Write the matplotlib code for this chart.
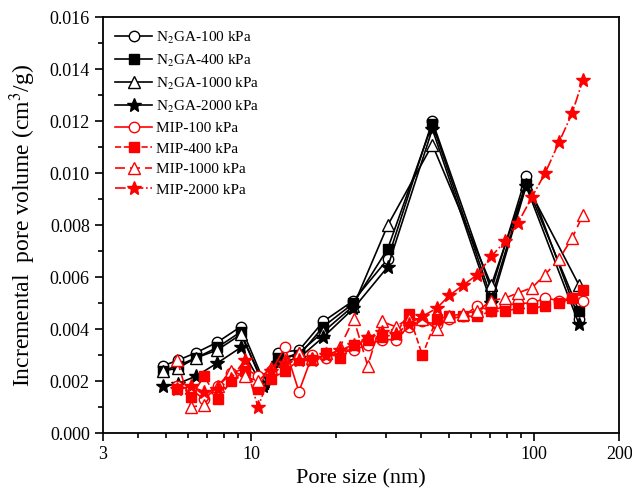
import numpy as np
import matplotlib
matplotlib.use('Agg')
import matplotlib.pyplot as plt
from matplotlib.ticker import FixedLocator, FixedFormatter, MultipleLocator, FormatStrFormatter

plt.rcParams['font.family'] = ['Liberation Serif', 'DejaVu Serif']
plt.rcParams['mathtext.fontset'] = 'stix'

#----------------data
# N2GA pore sizes (nm)
n2ga_x = [4.9, 5.5, 6.4, 7.6, 9.2, 11.0, 12.5, 14.8, 18.0, 23.0, 30.4, 43.7, 70.6, 93.7, 144.0]
n2ga_100 = [0.0026, 0.0028, 0.0031, 0.0035, 0.0041, 0.0021, 0.0031, 0.0032, 0.0043, 0.0051, 0.0067, 0.0120, 0.0055, 0.0099, 0.0044]
n2ga_400 = [0.0024, 0.0026, 0.0029, 0.0033, 0.0039, 0.0019, 0.0029, 0.0030, 0.0041, 0.0050, 0.0071, 0.0119, 0.0052, 0.0096, 0.0047]
n2ga_1000 = [0.0024, 0.0025, 0.0029, 0.0032, 0.0038, 0.0020, 0.0028, 0.0031, 0.0039, 0.0049, 0.0080, 0.0111, 0.0057, 0.0096, 0.0057]
n2ga_2000 = [0.0018, 0.0019, 0.0022, 0.0027, 0.0033, 0.0018, 0.0027, 0.0029, 0.0037, 0.0048, 0.0064, 0.0117, 0.0050, 0.0095, 0.0042]

# MIP pore sizes (nm)
mip_x = [5.49, 6.13, 6.83, 7.62, 8.50, 9.49, 10.58, 11.81, 13.18, 14.76,
         16.46, 18.37, 20.58, 23.05, 25.82, 28.93, 32.41, 36.0, 40.3, 45.2,
         50.2, 56.2, 63.0, 70.6, 79.1, 87.8, 98.4, 109.3, 122.5, 136.1, 148.8]
mip_100 = [0.0018, 0.0017, 0.0013, 0.0018, 0.0023, 0.0025, 0.0022, 0.0024, 0.0033, 0.0016,
           0.0030, 0.0029, 0.0031, 0.0032, 0.0034, 0.0036, 0.0036, 0.0041, 0.0043, 0.0042,
           0.0044, 0.0045, 0.0049, 0.0047, 0.0049, 0.0050, 0.0050, 0.0052, 0.0051, 0.0052, 0.0051]
mip_400 = [0.0017, 0.0014, 0.0022, 0.0013, 0.0020, 0.0024, 0.0017, 0.0021, 0.0024, 0.0028,
           0.0028, 0.0031, 0.0029, 0.0034, 0.0036, 0.0037, 0.0038, 0.0046, 0.0030, 0.0044,
           0.0045, 0.0045, 0.0045, 0.0047, 0.0047, 0.0048, 0.0048, 0.0049, 0.0050, 0.0052, 0.0055]
mip_1000 = [0.0028, 0.0010, 0.0011, 0.0018, 0.0024, 0.0022, 0.0020, 0.0025, 0.0028, 0.0031,
            0.0029, 0.0031, 0.0033, 0.0044, 0.0026, 0.0043, 0.0041, 0.0044, 0.0044, 0.0040,
            0.0045, 0.0046, 0.0047, 0.0051, 0.0052, 0.0054, 0.0056, 0.0061, 0.0067, 0.0075, 0.0084]
mip_2000 = [0.0017, 0.0018, 0.0016, 0.0017, 0.0021, 0.0028, 0.0010, 0.0024, 0.0027, 0.0028,
            0.0028, 0.0030, 0.0032, 0.0034, 0.0037, 0.0039, 0.0038, 0.0042, 0.0045, 0.0048,
            0.0053, 0.0057, 0.0061, 0.0068, 0.0074, 0.0081, 0.0091, 0.0100, 0.0112, 0.0123, 0.0136]

x_ticks = [3, 10, 100, 200]
x_tick_labels = ['3', '10', '100', '200']

#----------------plotting
fig = plt.figure(figsize=(6.32, 4.94), dpi=100)
ax = fig.add_axes([0.163, 0.123, 0.817, 0.842])

ms = 7.5
ax.plot(n2ga_x, n2ga_100, '-', color='black', lw=1.2, marker='o', ms=ms, mfc='white', mec='black', label='N$_2$GA-100 kPa')
ax.plot(n2ga_x, n2ga_400, '-', color='black', lw=1.2, marker='s', ms=ms - 0.5, mfc='black', mec='black', label='N$_2$GA-400 kPa')
ax.plot(n2ga_x, n2ga_1000, '-', color='black', lw=1.2, marker='^', ms=ms + 0.5, mfc='white', mec='black', label='N$_2$GA-1000 kPa')
ax.plot(n2ga_x, n2ga_2000, '-', color='black', lw=1.2, marker='*', ms=ms + 3, mfc='black', mec='black', label='N$_2$GA-2000 kPa')

ax.plot(mip_x, mip_100, '-', color='red', lw=1.2, marker='o', ms=ms, mfc='white', mec='red', label='MIP-100 kPa')
ax.plot(mip_x, mip_400, '--', color='red', lw=1.2, marker='s', ms=ms - 0.5, mfc='red', mec='red', label='MIP-400 kPa')
ax.plot(mip_x, mip_1000, '--', color='red', lw=1.2, marker='^', ms=ms + 0.5, mfc='white', mec='red', label='MIP-1000 kPa', dashes=(6, 3))
ax.plot(mip_x, mip_2000, '-.', color='red', lw=1.2, marker='*', ms=ms + 3, mfc='red', mec='red', label='MIP-2000 kPa')

ax.set_xscale('log')
ax.set_xlim(3, 200)
ax.set_ylim(0, 0.016)
ax.xaxis.set_major_locator(FixedLocator(x_ticks))
ax.xaxis.set_major_formatter(FixedFormatter(x_tick_labels))
ax.xaxis.set_minor_formatter(FixedFormatter([]))
ax.yaxis.set_major_locator(MultipleLocator(0.002))
ax.yaxis.set_minor_locator(MultipleLocator(0.001))
ax.yaxis.set_major_formatter(FormatStrFormatter('%.3f'))

ax.tick_params(which='both', direction='out', top=False, right=False, labelsize=13, width=1.2)
ax.tick_params(which='major', length=6)
ax.tick_params(which='minor', length=3.5)
for s in ax.spines.values():
    s.set_linewidth(1.3)

ax.set_xlabel('Pore size (nm)', fontsize=16)
ax.set_ylabel('Incremental  pore volume (cm$^3$/g)', fontsize=17, labelpad=8)

ax.legend(loc='upper left', frameon=False, fontsize=11, handlelength=2.4,
          labelspacing=0.45, borderaxespad=0.4, handletextpad=0.3)

fig.savefig('out.png', dpi=100)
